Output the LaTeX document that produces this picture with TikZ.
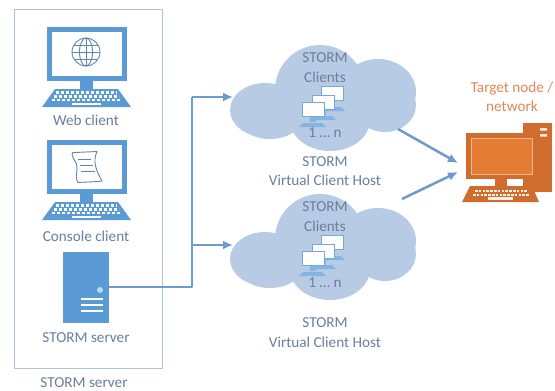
\documentclass[tikz,border=0pt]{standalone}
\usepackage{fontspec}
\setmainfont{Carlito}
\usetikzlibrary{arrows.meta}
\definecolor{iconblue}{HTML}{5B9BD5}
\definecolor{framecol}{HTML}{A9C4E4}
\definecolor{cloudcol}{HTML}{B7CBE5}
\definecolor{linkcol}{HTML}{6E9AD0}
\definecolor{labelcol}{HTML}{6A7F9C}
\definecolor{orangedark}{HTML}{D06C2E}
\definecolor{orangemid}{HTML}{E47D33}
\definecolor{orangetext}{HTML}{DB8A56}
\definecolor{glyphcol}{HTML}{5F86B3}
\tikzset{
  lab/.style={font=\fontsize{15.2}{17}\selectfont,text=labelcol,inner sep=0pt,align=center},
  orangelab/.style={font=\fontsize{15.2}{17}\selectfont,text=orangetext,inner sep=0pt,align=center},
  link/.style={draw=linkcol,line width=2.5pt,-{Latex[length=10pt,width=9pt]}},
  linkplain/.style={draw=linkcol,line width=2.5pt},
  glyph/.style={draw=glyphcol,line width=0.9pt},
  pics/desktop/.style={code={
    \fill[#1] (0,0) rectangle (80,54);
    \fill[white] (5,5) rectangle (75,49);
    \fill[#1] (33,54) rectangle (46,62);
    \fill[#1] (8,62) -- (71,62) -- (84,80) -- (-5,80) -- cycle;
    \foreach \r/\a/\b in {65.5/9/70,69.5/7/72,73/5/74}{
      \draw[white,line width=2.2pt,dash pattern=on 3.4pt off 1.6pt] (\a,\r) -- (\b,\r);
    }
    \fill[white] (25,75.5) rectangle (54,78);
  }},
  pics/mini/.style={code={
    \fill[iconblue!75] (8,15) rectangle (14,20);
    \fill[iconblue!75] (1,21) -- (20,21) -- (24,25) -- (-3,25) -- cycle;
    \fill[white,draw=iconblue!85,line width=0.8pt] (0,0) rectangle (22,14);
  }},
  pics/cloudshape/.style={code={
    \fill[cloudcol]
      (265,110) ellipse (35 and 27)
      (320,90) ellipse (45 and 45)
      (378,92) ellipse (38 and 33)
      (330,120) ellipse (40 and 31)
      (385,105) ellipse (31 and 27)
      (270,118) ellipse (32 and 21)
      (320,110) ellipse (60 and 25);
  }}
}
\begin{document}
\begin{tikzpicture}[x=1pt,y=-1pt]
\useasboundingbox (0,0) rectangle (555,391);
\path[clip] (0,0) rectangle (555,391);
\fill[white] (0,0) rectangle (555,391);

% clouds
\pic at (0,0) {cloudshape};
\pic at (0,149) {cloudshape};

% frame
\node[draw=framecol,line width=1.2pt,minimum width=148pt,minimum height=359pt,inner sep=0pt,anchor=north west] (frame) at (14,9) {};
\node[lab] (outerlab) at (84,383) {STORM server};

% clients
\pic at (47,27) {desktop=iconblue};
\pic at (47,140) {desktop=iconblue};
\node[lab] (weblab) at (86,120) {Web client};
\node[lab] (conlab) at (86,236) {Console client};

% globe
\draw[glyph] (86,52) circle (14);
\draw[glyph] (86,52) ellipse (6.5 and 14);
\draw[glyph] (86,38) -- (86,66) (72,52) -- (100,52) (74,45) -- (98,45) (74,59) -- (98,59);

% scroll
\draw[glyph,line join=round] (72,154) .. controls (72,152.5) and (73,152.5) .. (75,152.5) -- (97,151.5) .. controls (92,162) and (97,172) .. (102,181) .. controls (95,182) and (85,182) .. (78,182.5) .. controls (74,176) and (79,170) .. (76,163) .. controls (74,159) and (72,157) .. (72,154) -- cycle;
\draw[glyph] (78,159) -- (91,159) (80,165) -- (93,165) (81,171) -- (95,171);

% server
\node[fill=iconblue,minimum width=46pt,minimum height=71pt,inner sep=0pt,anchor=north west] (srv) at (63,252) {};
\fill[white!60!iconblue] (100,290) circle (3);
\draw[white,line width=1.3pt] (81,299) -- (103,299) (81,305) -- (103,305) (81,311) -- (103,311);
\node[lab] (srvlab) at (86,338) {STORM server};

% cloud labels
\node[lab] (c1a) at (325,58) {STORM};
\node[lab] (c1b) at (325,77) {Clients};
\node[lab] (c1c) at (325,133) {1 … n};
\node[lab] (c1d) at (325,162) {STORM};
\node[lab] (c1e) at (325,180) {Virtual Client Host};
\node[lab] (c2a) at (325,207) {STORM};
\node[lab] (c2b) at (325,226) {Clients};
\node[lab] (c2c) at (325,283) {1 … n};
\node[lab] (c2d) at (325,323) {STORM};
\node[lab] (c2e) at (325,342) {Virtual Client Host};

% mini monitors
\foreach \dy in {0,149}{
  \pic at (321,86+\dy) {mini};
  \pic at (312,95+\dy) {mini};
  \pic at (302,102+\dy) {mini};
}

% connectors
\coordinate (srvout) at (srv.east |- 0,287);
\coordinate (bus) at (192,287);
\coordinate (busA) at (192,97);
\coordinate (busB) at (192,245);
\coordinate (cloudA) at (233,97);
\coordinate (cloudB) at (233,245);
\draw[linkplain,line join=round] (srvout) -- (bus) -- (busA);
\draw[link] (busA) -- (cloudA);
\draw[link] (busB) -- (cloudB);
\coordinate (outA) at (398,129);
\coordinate (outB) at (402,199);
\coordinate (inA) at (458,163);
\coordinate (inB) at (458,172);
\draw[link] (outA) -- (inA);
\draw[link] (outB) -- (inB);

% target
\node[orangelab] (tlab) at (512,97) {Target node /\\[2pt]network};
\fill[orangedark] (523,123) rectangle (552,192);
\fill[white!85!orangemid] (540,128) rectangle (547,130.5) (540,134) rectangle (547,136.5);
\fill[orangedark] (466,133) rectangle (536,179);
\draw[white!45!orangemid,fill=orangemid,line width=1pt] (471,138) rectangle (532,174);
\fill[orangedark] (495,179) rectangle (507,187);
\fill[white] (507,179.5) rectangle (523,186);
\fill[orangedark] (470,186) -- (532,186) -- (539,202) -- (462,202) -- cycle;
\foreach \r/\a/\b in {191/475/527,194.5/473/529}{
  \draw[white!90!orangemid,line width=2pt,dash pattern=on 2.6pt off 1.2pt] (\a,\r) -- (\b,\r);
}
\fill[white!90!orangemid] (488,197) rectangle (513,199.5);
\end{tikzpicture}
\end{document}
